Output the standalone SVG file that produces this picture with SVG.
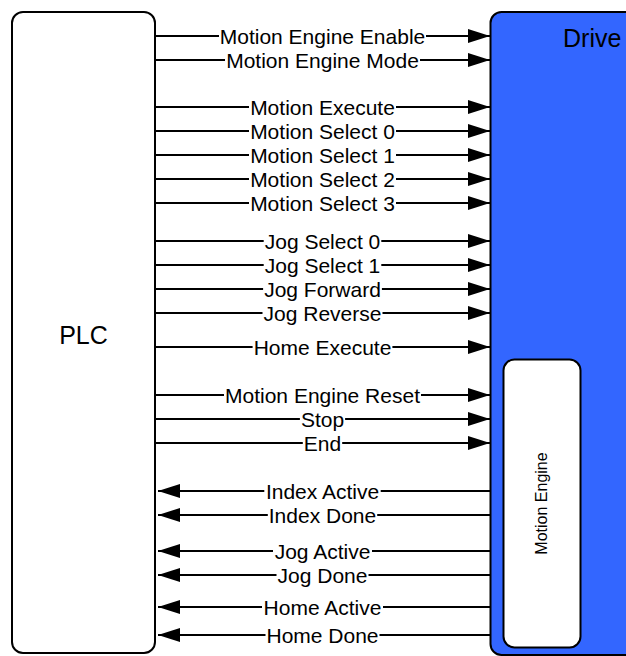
<svg xmlns="http://www.w3.org/2000/svg" width="626" height="656" viewBox="0 0 626 656">
<style>
.box{stroke:#000;stroke-width:2}
.lbl{font-family:"Liberation Sans",Arial,sans-serif;font-size:21px;fill:#000;text-anchor:middle}
.big{font-family:"Liberation Sans",Arial,sans-serif;font-size:25px;fill:#000}
.small{font-family:"Liberation Sans",Arial,sans-serif;font-size:16px;fill:#000;text-anchor:middle}
.c{fill:none;stroke:#000;stroke-width:2;marker-end:url(#ah)}
</style>
<defs>
<marker id="ah" markerUnits="userSpaceOnUse" markerWidth="22" markerHeight="14" refX="22" refY="7" orient="auto">
<path d="M0,0 L22,7 L0,14 z" fill="#000"/>
</marker>
</defs>
<rect width="626" height="656" fill="#fff"/>
<g id="plc">
<rect class="box" x="12" y="12" width="143" height="641" rx="11" fill="#fff"/>
<text class="big" x="83.5" y="344" text-anchor="middle">PLC</text>
</g>
<g id="drive">
<rect class="box" x="490.5" y="12" width="160" height="643" rx="11" fill="#3366ff"/>
<text class="big" x="563" y="46.5">Drive</text>
</g>
<g id="motion-engine">
<rect class="box" x="503.5" y="359.5" width="77" height="288" rx="11" fill="#fff"/>
<text class="small" transform="translate(547 503.5) rotate(-90)">Motion Engine</text>
</g>
<g id="connectors">
<path class="c" d="M155 36 H219 M426 36 H490"/>
<path class="c" d="M155 60 H225 M420 60 H490"/>
<path class="c" d="M155 107 H249 M396 107 H490"/>
<path class="c" d="M155 131 H249 M396 131 H490"/>
<path class="c" d="M155 155 H249 M396 155 H490"/>
<path class="c" d="M155 179 H249 M396 179 H490"/>
<path class="c" d="M155 203 H249 M396 203 H490"/>
<path class="c" d="M155 241 H263.7 M381.3 241 H490"/>
<path class="c" d="M155 265 H263.7 M381.3 265 H490"/>
<path class="c" d="M155 289 H263.1 M381.9 289 H490"/>
<path class="c" d="M155 313 H262.5 M382.5 313 H490"/>
<path class="c" d="M155 347 H252.6 M392.4 347 H490"/>
<path class="c" d="M155 395 H224 M421 395 H490"/>
<path class="c" d="M155 419 H299.9 M345.1 419 H490"/>
<path class="c" d="M155 443 H302.8 M342.2 443 H490"/>
<path class="c" d="M490 491 H380.7 M264.3 491 H158"/>
<path class="c" d="M490 515 H377.2 M267.8 515 H158"/>
<path class="c" d="M490 551 H372 M273 551 H158"/>
<path class="c" d="M490 575 H368.5 M276.5 575 H158"/>
<path class="c" d="M490 607 H383 M262 607 H158"/>
<path class="c" d="M490 635 H379.5 M265.5 635 H158"/>
</g>
<g id="labels">
<text class="lbl" x="322.5" y="43.5">Motion Engine Enable</text>
<text class="lbl" x="322.5" y="67.5">Motion Engine Mode</text>
<text class="lbl" x="322.5" y="114.5">Motion Execute</text>
<text class="lbl" x="322.5" y="138.5">Motion Select 0</text>
<text class="lbl" x="322.5" y="162.5">Motion Select 1</text>
<text class="lbl" x="322.5" y="186.5">Motion Select 2</text>
<text class="lbl" x="322.5" y="210.5">Motion Select 3</text>
<text class="lbl" x="322.5" y="248.5">Jog Select 0</text>
<text class="lbl" x="322.5" y="272.5">Jog Select 1</text>
<text class="lbl" x="322.5" y="296.5">Jog Forward</text>
<text class="lbl" x="322.5" y="320.5">Jog Reverse</text>
<text class="lbl" x="322.5" y="354.5">Home Execute</text>
<text class="lbl" x="322.5" y="402.5">Motion Engine Reset</text>
<text class="lbl" x="322.5" y="426.5">Stop</text>
<text class="lbl" x="322.5" y="450.5">End</text>
<text class="lbl" x="322.5" y="498.5">Index Active</text>
<text class="lbl" x="322.5" y="522.5">Index Done</text>
<text class="lbl" x="322.5" y="558.5">Jog Active</text>
<text class="lbl" x="322.5" y="582.5">Jog Done</text>
<text class="lbl" x="322.5" y="614.5">Home Active</text>
<text class="lbl" x="322.5" y="642.5">Home Done</text>
</g>
</svg>
